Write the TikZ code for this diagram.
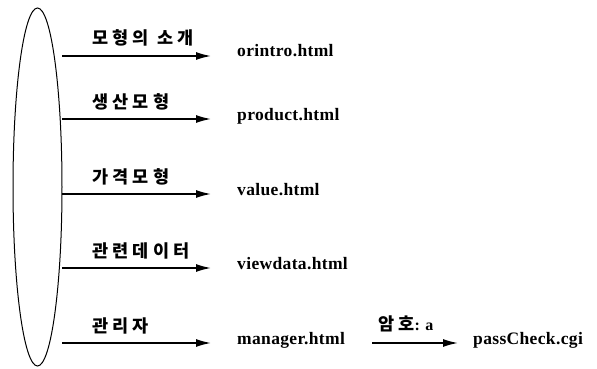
\documentclass[tikz,border=0pt]{standalone}
\usepackage{fontspec}
\setmainfont{Liberation Serif}
\newfontfamily\kr{Noto Sans CJK KR}[LetterSpace=24]
\usetikzlibrary{shapes.geometric,arrows.meta}
\tikzset{
  arr/.style={line width=1.5pt,-{Latex[length=15pt,width=8pt]}},
  krlab/.style={anchor=base west,inner sep=0pt,font=\kr\bfseries\fontsize{17.5}{18}\selectfont},
  file/.style={anchor=base west,inner sep=0pt,font=\addfontfeatures{LetterSpace=2}\bfseries\fontsize{17.5}{18}\selectfont},
}
\begin{document}
\begin{tikzpicture}[x=1pt,y=-1pt]
\useasboundingbox (0,0) rectangle (597,369);
\node[draw,line width=1pt,ellipse,minimum width=49pt,minimum height=358pt,inner sep=0pt] (e) at (37.5,187) {};
\foreach \i/\y/\k/\f in {1/56/{모형의 소개}/orintro.html,2/119/생산모형/product.html,3/194/가격모형/value.html,4/268/관련데이터/viewdata.html,5/343/관리자/manager.html}{
  \coordinate (a\i) at (62,\y);
  \coordinate (b\i) at (211,\y);
  \node[krlab] (k\i) at (92,\y-11) {\k};
  \node[file] (f\i) at (237,\y+1) {\f};
  \draw[arr] (a\i) -- (b\i);
}
\coordinate (a6) at (372,343);
\coordinate (b6) at (458,343);
\draw[arr] (a6) -- (b6);
\node[anchor=base west,inner sep=0pt] (k6) at (378,330) {{\kr\bfseries\fontsize{17.5}{18}\selectfont 암호}{\bfseries\fontsize{16}{16}\selectfont: a}};
\node[file] (p) at (473,344) {passCheck.cgi};
\end{tikzpicture}
\end{document}
